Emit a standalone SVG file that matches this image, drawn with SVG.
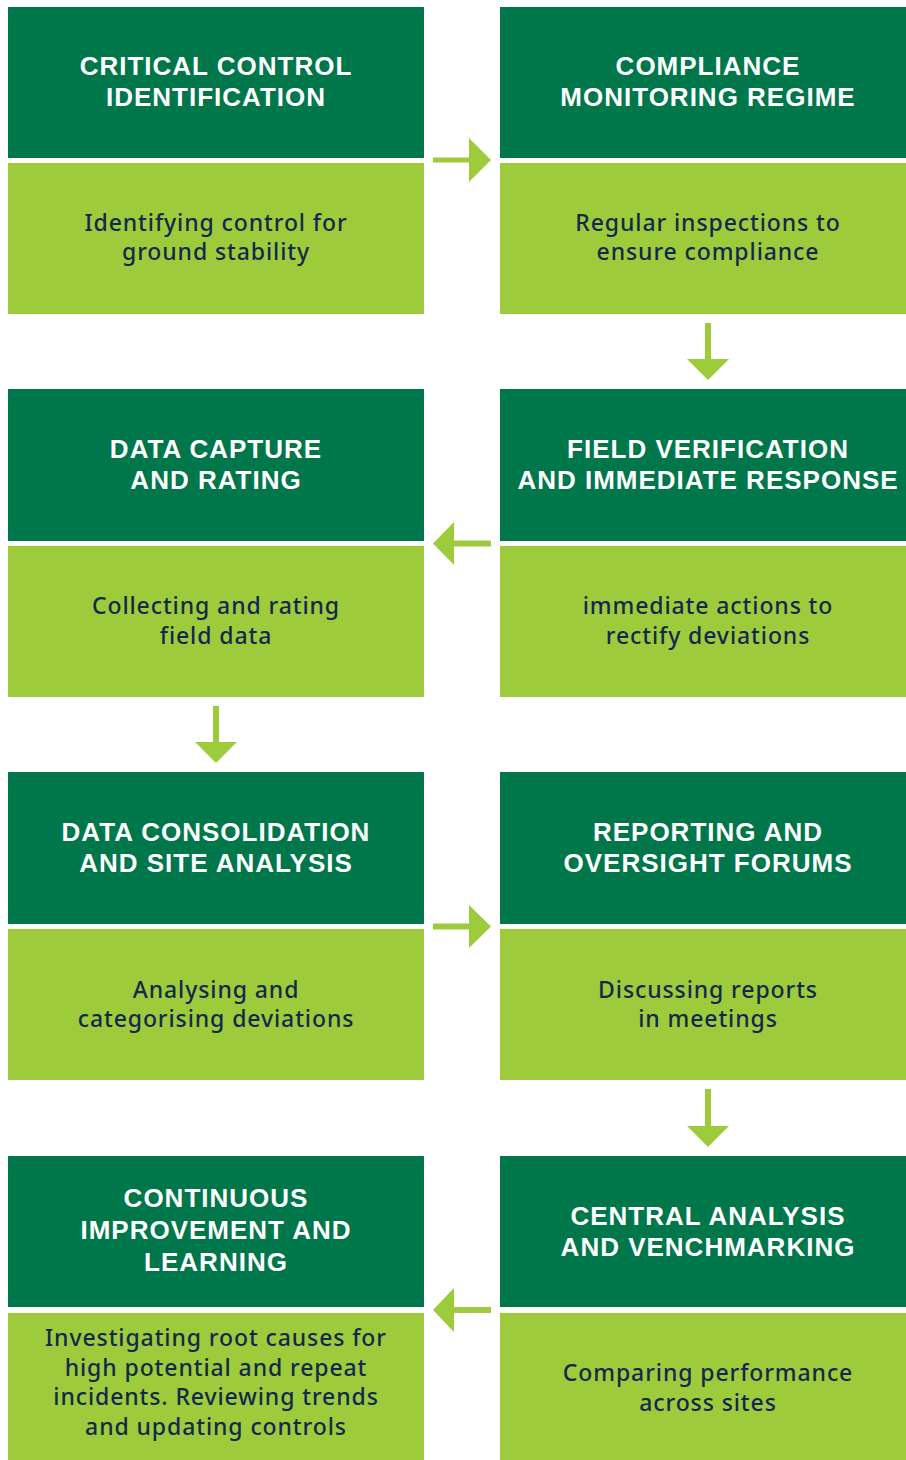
<svg xmlns="http://www.w3.org/2000/svg" width="906" height="1460" viewBox="0 0 906 1460">
<defs>
<style>
.dk{fill:#00774A}
.lt{fill:#9ECB3B}
.h{font-family:"Liberation Sans",Arial,sans-serif;font-weight:bold;font-size:26px;fill:#fff;text-anchor:middle;letter-spacing:1px}
.b{font-family:"Noto Sans",sans-serif;font-weight:500;font-size:23px;fill:#13294B;text-anchor:middle;letter-spacing:0.9px}
.arr{fill:#9ECB3B}
</style>
</defs>
<rect width="906" height="1460" fill="#fff"/>
<g id="n1">
<rect class="dk" x="8" y="7" width="416" height="151"/>
<rect class="lt" x="8" y="163" width="416" height="151"/>
<text class="h" x="216" y="75">CRITICAL CONTROL</text>
<text class="h" x="216" y="106">IDENTIFICATION</text>
<text class="b" x="216" y="231">Identifying control for</text>
<text class="b" x="216" y="260">ground stability</text>
</g>
<g id="n2">
<rect class="dk" x="500" y="7" width="406" height="151"/>
<rect class="lt" x="500" y="163" width="406" height="151"/>
<text class="h" x="708" y="75">COMPLIANCE</text>
<text class="h" x="708" y="106">MONITORING REGIME</text>
<text class="b" x="708" y="231">Regular inspections to</text>
<text class="b" x="708" y="260">ensure compliance</text>
</g>
<g id="n3">
<rect class="dk" x="500" y="389" width="406" height="152"/>
<rect class="lt" x="500" y="546" width="406" height="151"/>
<text class="h" x="708" y="458">FIELD VERIFICATION</text>
<text class="h" x="708" y="489">AND IMMEDIATE RESPONSE</text>
<text class="b" x="708" y="614">immediate actions to</text>
<text class="b" x="708" y="644">rectify deviations</text>
</g>
<g id="n4">
<rect class="dk" x="8" y="389" width="416" height="152"/>
<rect class="lt" x="8" y="546" width="416" height="151"/>
<text class="h" x="216" y="458">DATA CAPTURE</text>
<text class="h" x="216" y="489">AND RATING</text>
<text class="b" x="216" y="614">Collecting and rating</text>
<text class="b" x="216" y="644">field data</text>
</g>
<g id="n5">
<rect class="dk" x="8" y="772" width="416" height="152"/>
<rect class="lt" x="8" y="929" width="416" height="151"/>
<text class="h" x="216" y="841">DATA CONSOLIDATION</text>
<text class="h" x="216" y="872">AND SITE ANALYSIS</text>
<text class="b" x="216" y="998">Analysing and</text>
<text class="b" x="216" y="1027">categorising deviations</text>
</g>
<g id="n6">
<rect class="dk" x="500" y="772" width="406" height="152"/>
<rect class="lt" x="500" y="929" width="406" height="151"/>
<text class="h" x="708" y="841">REPORTING AND</text>
<text class="h" x="708" y="872">OVERSIGHT FORUMS</text>
<text class="b" x="708" y="998">Discussing reports</text>
<text class="b" x="708" y="1027">in meetings</text>
</g>
<g id="n7">
<rect class="dk" x="500" y="1156" width="406" height="151"/>
<rect class="lt" x="500" y="1313" width="406" height="147"/>
<text class="h" x="708" y="1225">CENTRAL ANALYSIS</text>
<text class="h" x="708" y="1256">AND VENCHMARKING</text>
<text class="b" x="708" y="1381">Comparing performance</text>
<text class="b" x="708" y="1411">across sites</text>
</g>
<g id="n8">
<rect class="dk" x="8" y="1156" width="416" height="151"/>
<rect class="lt" x="8" y="1313" width="416" height="147"/>
<text class="h" x="216" y="1207">CONTINUOUS</text>
<text class="h" x="216" y="1239">IMPROVEMENT AND</text>
<text class="h" x="216" y="1271">LEARNING</text>
<text class="b" x="216" y="1346">Investigating root causes for</text>
<text class="b" x="216" y="1376">high potential and repeat</text>
<text class="b" x="216" y="1405">incidents. Reviewing trends</text>
<text class="b" x="216" y="1435">and updating controls</text>
</g>
<g id="connectors">
<path class="arr" d="M433 157.5H469V138L491 160L469 182V162.5H433Z"/>
<path class="arr" d="M705 323H711V359H729L708 380L687 359H705Z"/>
<path class="arr" d="M491 540.5H454V522L433 543.5L454 565V546.5H491Z"/>
<path class="arr" d="M213 706H219V742H237L216 763L195 742H213Z"/>
<path class="arr" d="M433 923.5H469V905L491 926.5L469 948V929.5H433Z"/>
<path class="arr" d="M705 1089H711V1126H729L708 1147L687 1126H705Z"/>
<path class="arr" d="M491 1307H454V1288L433 1310L454 1332V1313H491Z"/>
</g>
</svg>
